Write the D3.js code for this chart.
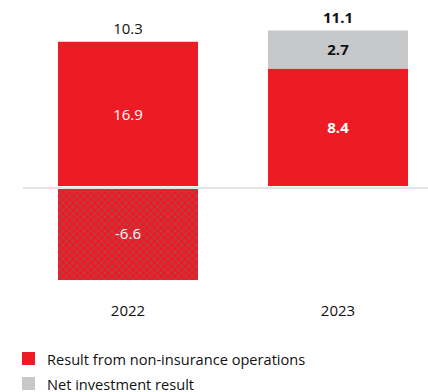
<!DOCTYPE html>
<html>
<head>
<meta charset="utf-8">
<script src="https://cdn.jsdelivr.net/npm/d3@7"></script>
<style>
  html, body { margin: 0; padding: 0; background: #fff; }
  svg { display: block; font-family: "Open Sans", "Noto Sans", sans-serif; }
</style>
</head>
<body>
<svg id="chart" width="428" height="392"></svg>
<script>
// Result components per year (EUR bn)
const years = ["2022", "2023"];
const nonInsurance = [16.9, 8.4];
const netInvestment = [-6.6, 2.7];
const totals = [10.3, 11.1];
const seriesNames = ["Result from non-insurance operations", "Net investment result"];
const boldLabels = [false, true];

const RED = "#ed1c24";
const GREY = "#c7c8ca";
const fmt = v => v.toFixed(1);

const svg = d3.select("#chart");

// cross-hatch fill for the negative (offsetting) part of a bar
const defs = svg.append("defs");
const pat = defs.append("pattern")
  .attr("id", "hatch")
  .attr("patternUnits", "userSpaceOnUse")
  .attr("width", 7).attr("height", 7);
pat.append("rect").attr("width", 7).attr("height", 7).attr("fill", RED);
pat.append("path")
  .attr("d", "M0,0 L7,7 M7,0 L0,7")
  .attr("stroke", "#7a6868").attr("stroke-width", 0.8).attr("stroke-opacity", 0.75);

const x = d3.scaleBand().domain(years).range([23, 443]).paddingInner(1 / 3).paddingOuter(1 / 6);
const y = d3.scaleLinear().domain([-7, 12]).range([285.7, 17.8]);

const bw = x.bandwidth();
const y0 = y(0);

function label(cx, cy, txt, color, bold) {
  svg.append("text")
    .attr("x", cx).attr("y", cy)
    .attr("dy", "0.36em").attr("text-anchor", "middle")
    .attr("fill", color).attr("font-size", 15)
    .attr("font-weight", bold ? 700 : 400)
    .text(txt);
}

years.forEach((yr, i) => {
  const bx = x(yr);
  const cx = bx + bw / 2;
  const inv = netInvestment[i];
  const ops = nonInsurance[i];

  if (inv < 0) {
    // operations bar spans from the negative investment result up to the total
    const top = y(inv + ops);
    svg.append("rect")
      .attr("x", bx).attr("y", top)
      .attr("width", bw).attr("height", y0 - 1 - top)
      .attr("fill", RED);
    svg.append("rect")
      .attr("x", bx).attr("y", y0 + 2)
      .attr("width", bw).attr("height", y(inv) - y0 - 2)
      .attr("fill", "url(#hatch)");
    label(cx, (top + y0) / 2, fmt(ops), "#fff", boldLabels[i]);
    label(cx, (y0 + y(inv)) / 2, fmt(inv), "#fff", boldLabels[i]);
  } else {
    const opsTop = y(ops);
    const invTop = y(ops + inv);
    svg.append("rect")
      .attr("x", bx).attr("y", opsTop)
      .attr("width", bw).attr("height", y0 - 1 - opsTop)
      .attr("fill", RED);
    svg.append("rect")
      .attr("x", bx).attr("y", invTop)
      .attr("width", bw).attr("height", opsTop - invTop)
      .attr("fill", GREY);
    label(cx, (opsTop + y0) / 2, fmt(ops), "#fff", boldLabels[i]);
    label(cx, (invTop + opsTop) / 2, fmt(inv), "#111", boldLabels[i]);
  }

  // total above the bar
  svg.append("text")
    .attr("x", cx).attr("y", y(totals[i]) - 7.5)
    .attr("text-anchor", "middle")
    .attr("fill", "#111").attr("font-size", 15)
    .attr("font-weight", boldLabels[i] ? 700 : 400)
    .text(fmt(totals[i]));
});

// zero line
svg.append("line")
  .attr("x1", 23).attr("x2", 428)
  .attr("y1", y0 + 1).attr("y2", y0 + 1)
  .attr("stroke", "#e4e4e4").attr("stroke-width", 2);

// category axis
const xAxis = svg.append("g")
  .attr("transform", "translate(0,316)")
  .call(d3.axisBottom(x).tickSize(0).tickPadding(0));
xAxis.select(".domain").remove();
xAxis.selectAll("text")
  .attr("dy", 0)
  .attr("font-family", "\"Open Sans\", \"Noto Sans\", sans-serif")
  .attr("font-size", 15).attr("fill", "#111");

// legend
const legend = svg.append("g");
seriesNames.forEach((name, i) => {
  const ly = 352 + i * 25;
  legend.append("rect")
    .attr("x", 22).attr("y", ly)
    .attr("width", 13).attr("height", 13)
    .attr("fill", i === 0 ? RED : GREY);
  legend.append("text")
    .attr("x", 47).attr("y", ly + 13)
    .attr("font-size", 14.6).attr("fill", "#111")
    .text(name);
});
</script>
</body>
</html>
